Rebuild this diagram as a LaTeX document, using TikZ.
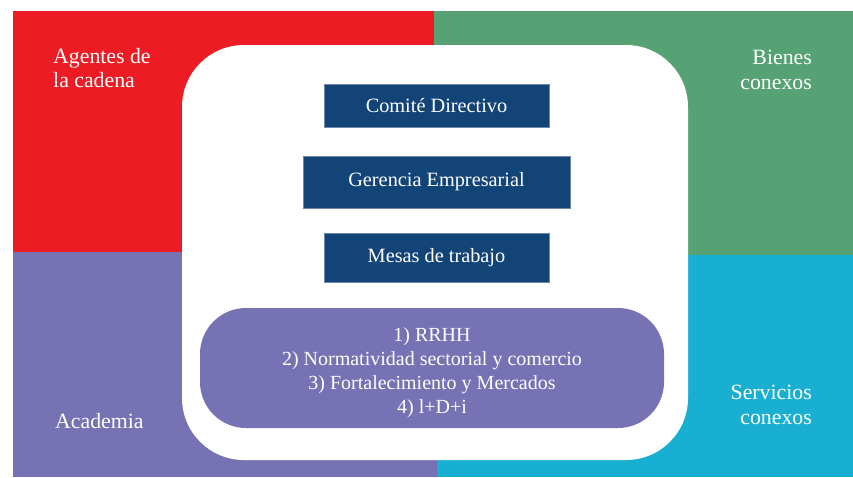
\documentclass[tikz,border=0pt]{standalone}
\usepackage{fontspec}
\setmainfont{Liberation Serif}[Ligatures=TeX]
\newfontfamily\qserif{Liberation Serif}
\definecolor{qred}{HTML}{ED1C24}
\definecolor{qgreen}{HTML}{56A275}
\definecolor{qpurple}{HTML}{7672B4}
\definecolor{qcyan}{HTML}{18AFD3}
\definecolor{qnavy}{HTML}{134478}
\definecolor{qedge}{HTML}{6F87AA}
\begin{document}
\begin{tikzpicture}[x=1pt,y=-1pt,
  corner/.style={text=white,inner sep=0pt,font=\qserif\fontsize{21.8}{24.5}\selectfont},
  bluebox/.style={fill=qnavy,draw=qedge,line width=0.8pt,text=white,inner sep=0pt,
    font=\qserif\fontsize{20.3}{23}\selectfont},
  pill/.style={fill=qpurple,rounded corners=46pt,text=white,align=center,inner sep=0pt,
    font=\qserif\fontsize{20}{24}\selectfont}]
\useasboundingbox (0,0) rectangle (853,477);
\fill[white] (0,0) rectangle (853,477);
% quadrants
\fill[qred] (13,11) rectangle (434,252);
\fill[qgreen] (434,11) rectangle (853,255);
\fill[qpurple] (13,252) rectangle (437,477);
\fill[qcyan] (437,255) rectangle (853,477);
% white panel
\fill[white,rounded corners=62pt] (182,45) rectangle (688,460);
% corner labels
\node[corner,anchor=north west,align=left] (agentes) at (53,48) {Agentes de\\la cadena};
\node[corner,anchor=north east,align=right] (bienes) at (812,50) {Bienes\\conexos};
\node[corner,anchor=north west,align=left] (academia) at (55,413) {Academia};
\node[corner,anchor=north east,align=right] (servicios) at (812,385) {Servicios\\conexos};
% blue boxes
\node[bluebox,minimum width=225pt,minimum height=43pt] (comite) at (436.5,105.5) {Comité Directivo};
\node[bluebox,minimum width=267pt,minimum height=52pt] (gerencia) at (436.5,182) {Gerencia Empresarial};
\node[bluebox,minimum width=225pt,minimum height=49pt] (mesas) at (436.5,257.5) {Mesas de trabajo};
% pill
\node[pill,minimum width=464pt,minimum height=120pt] (temas) at (432,368)
  {\rule{0pt}{23pt}1) RRHH\\2) Normatividad sectorial y comercio\\3) Fortalecimiento y Mercados\\4) l+D+i};
\end{tikzpicture}
\end{document}
